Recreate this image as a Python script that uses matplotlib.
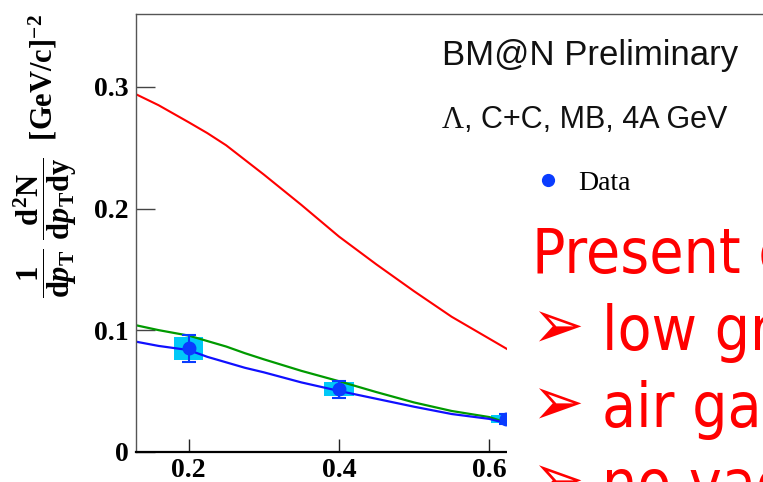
import matplotlib
matplotlib.use("Agg")
import matplotlib.pyplot as plt
from matplotlib.lines import Line2D
from matplotlib.patches import Rectangle

# ---------------------------Data----------------------------------------------------------
# Lambda pT spectrum, C+C minimum bias at 4A GeV
pt_data = [0.2, 0.4, 0.622]
yield_data = [0.085, 0.0515, 0.0269]
stat_err = [0.011, 0.007, 0.004]
sys_dx = [0.019, 0.0195, 0.0195]
sys_dy = [0.0095, 0.0055, 0.003]

# model curves on a common pT grid
pt_model = [0.13, 0.16, 0.20, 0.225, 0.25, 0.275, 0.30, 0.35, 0.40, 0.45, 0.50, 0.55, 0.60, 0.625]
model_red = [0.294, 0.285, 0.271, 0.262, 0.252, 0.240, 0.228, 0.203, 0.177, 0.154, 0.132, 0.111, 0.093, 0.084]
model_green = [0.104, 0.100, 0.0955, 0.091, 0.0865, 0.081, 0.076, 0.0665, 0.058, 0.049, 0.0405, 0.0335, 0.0285, 0.0235]
model_blue = [0.0905, 0.087, 0.0836, 0.078, 0.0735, 0.069, 0.0653, 0.057, 0.050, 0.0435, 0.037, 0.031, 0.027, 0.023]

x_ticks = [0.2, 0.4, 0.6]
x_labels = ["0.2", "0.4", "0.6"]
y_ticks = [0, 0.1, 0.2, 0.3]
y_labels = ["0", "0.1", "0.2", "0.3"]

notes = ["low granularity", "air gaps", "no vacuum"]

# ---------------------------Style---------------------------------------------------------
plt.rcParams["mathtext.fontset"] = "custom"
plt.rcParams["mathtext.rm"] = "Liberation Serif:bold"
plt.rcParams["mathtext.it"] = "Liberation Serif:bold:italic"
plt.rcParams["mathtext.bf"] = "Liberation Serif:bold"

W, H = 763, 482
fig = plt.figure(figsize=(W / 100, H / 100), dpi=100)

# axes frame in pixels: x from 136, y from 14 (top) to 451.7 (bottom)
x0, x1 = 0.13, 1.0
px_per_unit = 751.5
ax = fig.add_axes([136 / W, (H - 451.7) / H, (x1 - x0) * px_per_unit / W, (451.7 - 14) / H])
ax.set_xlim(x0, x1)
ax.set_ylim(0, 0.36)

for side in ["left", "top", "right"]:
    ax.spines[side].set_color("#555555")
    ax.spines[side].set_linewidth(1.0)
ax.spines["bottom"].set_color("black")
ax.spines["bottom"].set_linewidth(1.6)

ax.set_xticks(x_ticks)
ax.set_xticklabels(x_labels)
ax.set_yticks(y_ticks)
ax.set_yticklabels(y_labels)
ax.tick_params(axis="y", direction="in", length=13.7, width=1, color="#444444", pad=5.5)
ax.tick_params(axis="x", direction="in", length=9.4, width=1, color="#222222", pad=4.5)
for lab in ax.get_xticklabels() + ax.get_yticklabels():
    lab.set_fontfamily("Liberation Serif")
    lab.set_fontweight("bold")
    lab.set_fontsize(20)

# systematic boxes
ax.bar(pt_data, [2 * d for d in sys_dy], width=[2 * d for d in sys_dx],
       bottom=[y - d for y, d in zip(yield_data, sys_dy)],
       color="#00c8f8", edgecolor="none", zorder=1)

# models
ax.plot(pt_model, model_red, color="#ff0000", lw=1.5, zorder=2)
ax.plot(pt_model, model_green, color="#009a00", lw=1.6, zorder=2)
ax.plot(pt_model, model_blue, color="#1010ff", lw=1.6, zorder=2)

# data with statistical errors
ax.errorbar(pt_data, yield_data, yerr=stat_err, fmt="o", color="#0a3cff", ms=9,
            elinewidth=1.5, capsize=5, capthick=1.5, zorder=3)

# y axis title
ylab = (r"$\dfrac{1}{\mathrm{d}p_{\mathrm{T}}}\ \dfrac{\mathrm{d}^{2}\mathrm{N}}"
        r"{\mathrm{d}p_{\mathrm{T}}\mathrm{dy}}\ \ \mathrm{[GeV/c]}^{-2}$")
fig.text(45 / W, 1 - 14 / H, ylab, rotation=90, ha="center", va="top", fontsize=22)

# labels
fig.text(442 / W, 1 - 65 / H, "BM@N Preliminary", family="Liberation Sans",
         fontsize=25, color="#111111", va="baseline")
lam = fig.text(442 / W, 1 - 128.3 / H, "Λ", family="Liberation Serif",
               fontsize=22, color="#111111", va="baseline")
ax.annotate(", C+C, MB, 4A GeV", xy=(1, 0), xycoords=lam, va="bottom", ha="left",
            family="Liberation Sans", fontsize=22, color="#111111")

ax.legend(handles=[Line2D([], [], marker="o", ls="none", color="#0a3cff", ms=8.5)],
          labels=["Data"], loc="center left", bbox_to_anchor=(534 / W, 1 - 183 / H),
          bbox_transform=fig.transFigure, frameon=False, borderpad=0, borderaxespad=0,
          handlelength=1.0, handletextpad=0.6,
          prop={"family": "Liberation Serif", "size": 20})

# white panel with notes on top of the plot
fig.add_artist(Rectangle((507 / W, 0), 1 - 507 / W, 1 - 215 / H, transform=fig.transFigure,
                         facecolor="white", edgecolor="none", zorder=4))

red_font = dict(family="DejaVu Sans", fontstretch="condensed", color="#ff0000", zorder=5)
fig.text(532 / W, 1 - 273 / H, "Present configuration:", fontsize=44.6,
         va="baseline", **red_font)
for i, note in enumerate(notes):
    base = 350 + 77 * i
    fig.text(531 / W, 1 - (base - 2) / H, "➢", fontsize=50, va="baseline", **red_font)
    fig.text(602 / W, 1 - base / H, note, fontsize=44.6, va="baseline", **red_font)

fig.savefig("out.png", dpi=100)
